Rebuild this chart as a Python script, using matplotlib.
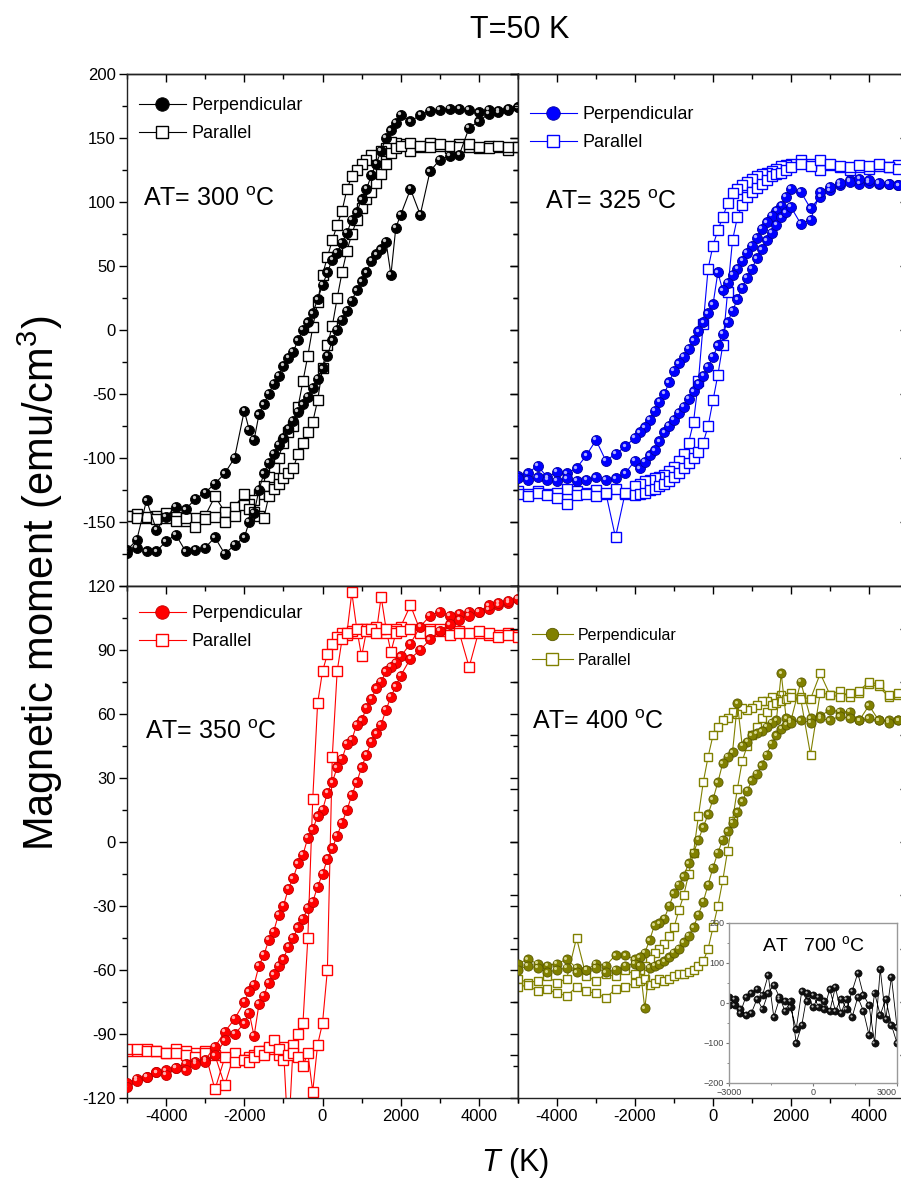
import matplotlib
matplotlib.use('Agg')
import matplotlib.pyplot as plt
from matplotlib import font_manager
from matplotlib.ticker import MultipleLocator, FixedFormatter, FixedLocator
from matplotlib.transforms import offset_copy
from matplotlib.lines import Line2D

names = {f.name for f in font_manager.fontManager.ttflist}
SANS = 'Liberation Sans' if 'Liberation Sans' in names else 'DejaVu Sans'
NARROW = 'Liberation Sans Narrow' if 'Liberation Sans Narrow' in names else SANS
plt.rcParams['font.family'] = [SANS, 'DejaVu Sans']
plt.rcParams['mathtext.fontset'] = 'custom'
plt.rcParams['mathtext.rm'] = SANS
plt.rcParams['mathtext.it'] = SANS + ':italic'

# ---------------- data ----------------
H_DOWN = [5000, 4750, 4500, 4250, 4000, 3750, 3500, 3250, 3000, 2750, 2500, 2250, 2000,
          1875, 1750, 1625, 1500, 1375, 1250, 1125, 1000, 875, 750, 625, 500, 375, 250, 125,
          0, -125, -250, -375, -500, -625, -750, -875, -1000, -1125, -1250, -1375, -1500,
          -1625, -1750, -1875,
          -2000, -2250, -2500, -2750, -3000, -3250, -3500, -3750, -4000, -4250, -4500, -4750,
          -5000]
H_UP = [-5000, -4750, -4500, -4250, -4000, -3750, -3500, -3250, -3000, -2750, -2500, -2250,
        -2000,
        -1875, -1750, -1625, -1500, -1375, -1250, -1125, -1000, -875, -750, -625, -500, -375,
        -250, -125, 0, 125, 250, 375, 500, 625, 750, 875, 1000, 1125, 1250, 1375, 1500, 1625,
        1750, 1875,
        2000, 2250, 2500, 2750, 3000, 3250, 3500, 3750, 4000, 4250, 4500, 4750, 5000]

# AT = 300 C
perp300_down = [174, 173, 171, 172, 170, 172, 173, 173, 172, 171, 168, 163, 168,
                162, 156, 150, 140, 130, 121, 110, 102, 92, 86, 76, 68, 60, 55, 45, 35, 24, 13,
                6, 0, -8, -17, -22, -28, -36, -42, -50, -58, -66, -86, -78,
                -63, -100, -112, -120, -127, -132, -140, -138, -146, -156, -133, -164, -172]
perp300_up = [-174, -170, -173, -173, -165, -160, -173, -172, -170, -162, -175, -168, -162,
              -150, -143, -125, -112, -104, -97, -90, -84, -77, -71, -64, -58, -52, -45, -38,
              -30, -20, -8, 0, 8, 15, 23, 31, 38, 45, 54, 59, 63, 69, 43, 80,
              90, 110, 90, 124, 133, 136, 137, 158, 163, 169, 170, 172, 174]
para300_down = [143, 141, 143, 144, 142, 143, 145, 142, 144, 146, 143, 140, 145,
                146, 147, 142, 140, 136, 137, 133, 130, 125, 120, 110, 93, 82, 70, 57, 43, 22,
                2, -20, -40, -60, -75, -80, -88, -100, -108, -115, -122, -128, -133, -136,
                -128, -138, -142, -130, -145, -147, -149, -146, -143, -145, -147, -144, -145]
para300_up = [-145, -147, -146, -148, -147, -149, -147, -154, -148, -146, -150, -145, -137,
              -140, -142, -145, -147, -130, -124, -120, -116, -112, -108, -97, -88, -80, -72,
              -55, -30, -12, 3, 25, 45, 62, 75, 86, 95, 102, 108, 115, 122, 130, 138, 142,
              144, 146, 144, 143, 145, 144, 143, 145, 143, 142, 144, 143, 143]

# AT = 325 C
perp325_down = [113, 113, 114, 114, 115, 114, 117, 113, 109, 104, 95, 108, 110,
                104, 97, 93, 89, 84, 79, 72, 66, 60, 54, 48, 43, 37, 31, 45, 20, 13, 6, -1, -8,
                -15, -21, -26, -32, -41, -50, -56, -63, -70, -76, -80,
                -84, -91, -97, -102, -86, -98, -108, -112, -111, -115, -106, -112, -114]
perp325_up = [-116, -117, -115, -117, -118, -116, -118, -117, -115, -117, -116, -112, -102,
              -108, -103, -98, -94, -87, -80, -75, -70, -65, -60, -54, -48, -42, -36, -29,
              -21, -12, -3, 6, 15, 24, 33, 41, 48, 56, 63, 70, 76, 82, 88, 92,
              96, 83, 86, 108, 112, 115, 116, 118, 117, 115, 114, 113, 113]
para325_down = [126, 129, 127, 128, 126, 127, 125, 127, 129, 125, 130, 133, 130,
                129, 128, 126, 124, 123, 122, 120, 118, 116, 113, 110, 107, 99, 88, 78, 66, 48,
                5, -40, -72, -88, -97, -102, -107, -110, -113, -115, -116, -117, -118, -120,
                -122, -128, -124, -128, -125, -127, -126, -124, -127, -128, -126, -128, -126]
para325_up = [-128, -130, -127, -129, -131, -136, -129, -128, -130, -127, -162, -127, -129,
              -128, -127, -125, -124, -122, -120, -118, -115, -112, -108, -104, -100, -95,
              -88, -75, -55, -35, -12, 30, 70, 88, 98, 104, 108, 111, 114, 117, 120, 122,
              123, 125,
              127, 130, 128, 133, 130, 128, 127, 129, 128, 130, 127, 126, 128]

# AT = 350 C
perp350_down = [114, 112, 111, 109, 108, 108, 107, 106, 108, 106, 101, 93, 87,
                84, 82, 80, 75, 72, 67, 63, 57, 55, 48, 46, 39, 35, 28, 23, 15, 12, 6, 2, -6,
                -10, -17, -22, -30, -34, -42, -46, -53, -58, -67, -70,
                -75, -83, -89, -96, -102, -103, -104, -106, -107, -108, -110, -111, -113]
perp350_up = [-115, -112, -110, -108, -109, -106, -107, -104, -103, -100, -93, -90, -85,
              -80, -91, -76, -72, -66, -62, -58, -55, -49, -45, -40, -36, -31, -28, -21, -15,
              -8, -3, 3, 9, 15, 22, 28, 35, 41, 47, 51, 55, 62, 68, 73,
              78, 86, 90, 95, 99, 102, 104, 106, 108, 111, 112, 113, 114]
para350_down = [97, 98, 97, 97, 98, 98, 99, 98, 99, 100, 99, 111, 101,
                100, 99, 98, 100, 101, 99, 100, 100, 98, 99, 97, 98, 96, 93, 88, 80, 65, 20,
                -45, -85, -90, -95, -140, -96, -100, -96, -97, -98, -99, -100, -101,
                -102, -99, -114, -100, -98, -99, -98, -97, -99, -98, -97, -98, -98]
para350_up = [-97, -97, -98, -98, -99, -99, -100, -101, -99, -116, -101, -103, -102,
              -103, -101, -98, -100, -96, -93, -97, -102, -100, -99, -101, -105, -99, -117,
              -95, -85, -60, 40, 80, 95, 98, 117, 100, 87, 99, 100, 98, 115, 100, 89, 98,
              99, 100, 98, 99, 100, 97, 98, 82, 99, 98, 96, 97, 96]

# AT = 400 C
perp400_down = [56, 57, 57, 57, 58, 57, 61, 61, 62, 59, 58, 75, 57,
                58, 79, 57, 56, 54, 52, 51, 50, 47, 45, 65, 42, 40, 37, 28, 20, 13, 7, 1, -5,
                -10, -16, -20, -24, -30, -36, -38, -39, -46, -52, -54,
                -55, -53, -53, -58, -57, -60, -59, -55, -57, -58, -57, -55, -57]
perp400_up = [-60, -58, -59, -61, -60, -59, -61, -60, -59, -61, -60, -58, -57,
              -58, -78, -59, -58, -57, -56, -54, -52, -50, -47, -44, -40, -34, -28, -20, -12,
              -5, 1, 5, 9, 14, 19, 24, 29, 32, 36, 41, 46, 50, 53, 55,
              56, 57, 56, 58, 57, 59, 58, 57, 64, 57, 56, 57, 56]
para400_down = [66, 69, 68, 73, 74, 70, 68, 71, 69, 79, 67, 68, 70,
                68, 69, 67, 68, 66, 66, 64, 63, 62, 63, 60, 61, 58, 57, 54, 50, 40, 28, 12, -5,
                -15, -25, -32, -40, -44, -48, -50, -52, -55, -58, -60,
                -62, -60, -63, -62, -65, -63, -45, -64, -66, -63, -65, -66, -64]
para400_up = [-68, -67, -70, -69, -71, -72, -68, -70, -71, -73, -69, -68, -66,
              -65, -64, -67, -66, -64, -65, -64, -63, -62, -62, -61, -60, -58, -56, -50, -40,
              -30, -18, -4, 10, 25, 38, 45, 50, 54, 58, 61, 64, 65, 66, 67,
              68, 67, 41, 70, 69, 68, 70, 71, 75, 74, 69, 70, 68]

# inset: AT = 700 C
IN_H = [-3000, -2800, -2600, -2400, -2200, -2000, -1800, -1600, -1400, -1200, -1000, -800,
        -600, -400, -200, 0, 200, 400, 600, 800, 1000, 1200, 1400, 1600, 1800, 2000, 2200,
        2400, 2600, 2800, 3000, 3000, 2800, 2600, 2400, 2200, 2000, 1800, 1600, 1400, 1200,
        1000, 800, 600, 400, 200, 0, -200, -400, -600, -800, -1000, -1200, -1400, -1600,
        -1800, -2000, -2200, -2400, -2600, -2800, -3000]
IN_M = [15, -5, -25, 15, 25, 35, 20, 70, -35, 10, 5, -10, -65, 30, 5, 20, -10, -15, 35, -20,
        10, -15, 30, 75, 20, -5, -100, 85, -40, 65, -60, -100, -55, 10, -30, 25, -80, -20, 15,
        -35, 10, -25, 40, -20, 5, 15, -10, 25, -55, -100, 5, -20, 15, 45, 25, -15, 10, -25,
        -30, -15, 10, -5]

X_TICKS = [-4000, -2000, 0, 2000, 4000]
Y_TICKS_TOP = [-200, -150, -100, -50, 0, 50, 100, 150, 200]
Y_LABELS_TOP = ['', '-150', '-100', '-50', '0', '50', '100', '150', '200']
Y_TICKS_BOT = [-120, -90, -60, -30, 0, 30, 60, 90, 120]
Y_LABELS_BOT = ['-120', '-90', '-60', '-30', '0', '30', '60', '90', '120']
Y_TICKS_BR = [-100, -75, -50, -25, 0, 25, 50, 75, 100]
IN_X_TICKS = [-3000, 0, 3000]
IN_Y_TICKS = [-200, -100, 0, 100, 200]

# ---------------- figure ----------------
W, H = 901, 1182
fig = plt.figure(figsize=(W / 100, H / 100), dpi=100)


def frac(x0, y0, x1, y1):
    return [x0 / W, 1 - y1 / H, (x1 - x0) / W, (y1 - y0) / H]


axTL = fig.add_axes(frac(127, 74, 518, 586))
axTR = fig.add_axes(frac(518, 74, 908, 586))
axBL = fig.add_axes(frac(127, 586, 518, 1098))
axBR = fig.add_axes(frac(518, 586, 908, 1098))

TICKFS = 12


def style(ax, ylim, yticks, yminor, ylabels=None, xlabels=False):
    ax.set_xlim(-5000, 5000)
    ax.set_ylim(*ylim)
    ax.xaxis.set_major_locator(FixedLocator(X_TICKS))
    ax.xaxis.set_minor_locator(MultipleLocator(1000))
    ax.yaxis.set_major_locator(FixedLocator(yticks))
    if yminor:
        ax.yaxis.set_minor_locator(MultipleLocator(yminor))
    ax.tick_params(which='both', direction='out', top=False, right=False, width=1.0,
                   labelsize=TICKFS, pad=2)
    ax.tick_params(which='major', length=6)
    ax.tick_params(which='minor', length=3.5)
    if ylabels is None:
        ax.tick_params(labelleft=False)
    else:
        ax.yaxis.set_major_formatter(FixedFormatter(ylabels))
    if xlabels:
        ax.xaxis.set_major_formatter(FixedFormatter([str(v) for v in X_TICKS]))
    else:
        ax.tick_params(labelbottom=False)
    for s in ax.spines.values():
        s.set_linewidth(1.0)
        s.set_color('#222222')
    sx = ax.secondary_xaxis('top')
    sx.xaxis.set_major_locator(FixedLocator(X_TICKS))
    sx.xaxis.set_minor_locator(MultipleLocator(1000))
    sx.tick_params(which='both', direction='in', labeltop=False, width=1.0)
    sx.tick_params(which='major', length=6)
    sx.tick_params(which='minor', length=3.5)
    sx.spines['top'].set_linewidth(1.0)
    sy = ax.secondary_yaxis('right')
    sy.yaxis.set_major_locator(FixedLocator(yticks))
    if yminor:
        sy.yaxis.set_minor_locator(MultipleLocator(yminor))
    sy.tick_params(which='both', direction='in', labelright=False, width=1.0)
    sy.tick_params(which='major', length=6)
    sy.tick_params(which='minor', length=3.5)
    sy.spines['right'].set_linewidth(1.0)


def draw(ax, perp_d, perp_u, para_d, para_u, color, edge, hi, ms_s, ms_q, label, lab_xy,
         leg_xy, legfs, at_fs=18):
    hx = H_DOWN + H_UP
    ax.plot(hx, para_d + para_u, '-', color=color, lw=0.8, marker='s', ms=ms_q, mfc='white',
            mec=color, mew=1.0, zorder=2)
    ax.plot(hx, perp_d + perp_u, '-', color=color, lw=0.8, marker='o', ms=ms_s, mfc=color,
            mec=edge, mew=0.6, zorder=3)
    tr = offset_copy(ax.transData, fig=fig, x=-ms_s * 0.17, y=ms_s * 0.17, units='points')
    ax.plot(hx, perp_d + perp_u, 'o', ms=ms_s * 0.33, mfc=hi, mec='none', transform=tr,
            zorder=4)
    ax.text(lab_xy[0], lab_xy[1], label, transform=ax.transAxes, fontsize=at_fs,
            ha='left', va='center')
    h1 = Line2D([], [], color=color, lw=0.8, marker='o', ms=ms_s * 1.35, mfc=color, mec=edge,
                mew=0.6)
    h2 = Line2D([], [], color=color, lw=0.8, marker='s', ms=ms_q * 1.3, mfc='white', mec=color,
                mew=1.0)
    ax.legend([h1, h2], ['Perpendicular', 'Parallel'], loc='upper left',
              bbox_to_anchor=leg_xy, frameon=False, fontsize=legfs, handlelength=2.6,
              handletextpad=0.3, labelspacing=0.6, borderaxespad=0, borderpad=0)


style(axTL, (-200, 200), Y_TICKS_TOP, 25, ylabels=Y_LABELS_TOP)
style(axTR, (-200, 200), Y_TICKS_TOP, 25)
style(axBL, (-120, 120), Y_TICKS_BOT, 15, ylabels=Y_LABELS_BOT, xlabels=True)
style(axBR, (-120, 120), Y_TICKS_BR, None, xlabels=True)

draw(axTL, perp300_down, perp300_up, para300_down, para300_up, 'black', 'black', '#c8c8c8',
     7.2, 6.6, r'AT= 300 $^{\rm o}$C', (0.04, 0.755), (0.03, 0.955), 13)
draw(axTR, perp325_down, perp325_up, para325_down, para325_up, '#0000ff', '#0000a0', '#b0b0ff',
     7.2, 6.6, r'AT= 325 $^{\rm o}$C', (0.07, 0.75), (0.03, 0.937), 13)
draw(axBL, perp350_down, perp350_up, para350_down, para350_up, '#ff0000', '#c00000', '#ffb0b0',
     7.2, 6.6, r'AT= 350 $^{\rm o}$C', (0.045, 0.715), (0.03, 0.962), 13)
draw(axBR, perp400_down, perp400_up, para400_down, para400_up, '#808000', '#5a5a00', '#d8d890',
     6.6, 6.2, r'AT= 400 $^{\rm o}$C', (0.035, 0.735), (0.035, 0.918), 11.5)

# inset
axin = fig.add_axes(frac(729, 923, 897, 1083))
axin.set_zorder(10)
axin.set_facecolor('white')
axin.plot(IN_H, IN_M, '-', color='black', lw=0.6, marker='o', ms=5.2, mfc='#111111',
          mec='black', mew=0.4)
trin = offset_copy(axin.transData, fig=fig, x=-0.8, y=0.8, units='points')
axin.plot(IN_H, IN_M, 'o', ms=1.6, mfc='#bbbbbb', mec='none', transform=trin)
axin.set_xlim(-3000, 3000)
axin.set_ylim(-200, 200)
axin.xaxis.set_major_locator(FixedLocator(IN_X_TICKS))
axin.xaxis.set_minor_locator(MultipleLocator(1500))
axin.yaxis.set_major_locator(FixedLocator(IN_Y_TICKS))
axin.yaxis.set_minor_locator(MultipleLocator(50))
axin.tick_params(which='both', direction='out', labelsize=6.5, labelcolor='#444444',
                 color='#777777', pad=1)
axin.tick_params(which='major', length=2.5)
axin.tick_params(which='minor', length=1.5)
for s in axin.spines.values():
    s.set_color('#999999')
    s.set_linewidth(1.0)
fig.canvas.draw()
xl = axin.get_xticklabels()
if xl:
    xl[-1].set_horizontalalignment('right')
axin.text(0.5, 0.86, r'AT   700 $^{\rm o}$C', transform=axin.transAxes, fontsize=14,
          ha='center', va='center')

# figure texts
fig.text(520 / W, 1 - 30 / H, 'T=50 K', fontsize=22, ha='center', va='center',
         family=[NARROW, SANS])
fig.text(40 / W, 1 - 583 / H, r'Magnetic moment (emu/cm$^{3}$)', fontsize=30, rotation=90,
         ha='center', va='center')
fig.text(515 / W, 1 - 1163 / H, r'$T$ (K)', fontsize=22, ha='center', va='center')

fig.savefig('out.png', dpi=100)
